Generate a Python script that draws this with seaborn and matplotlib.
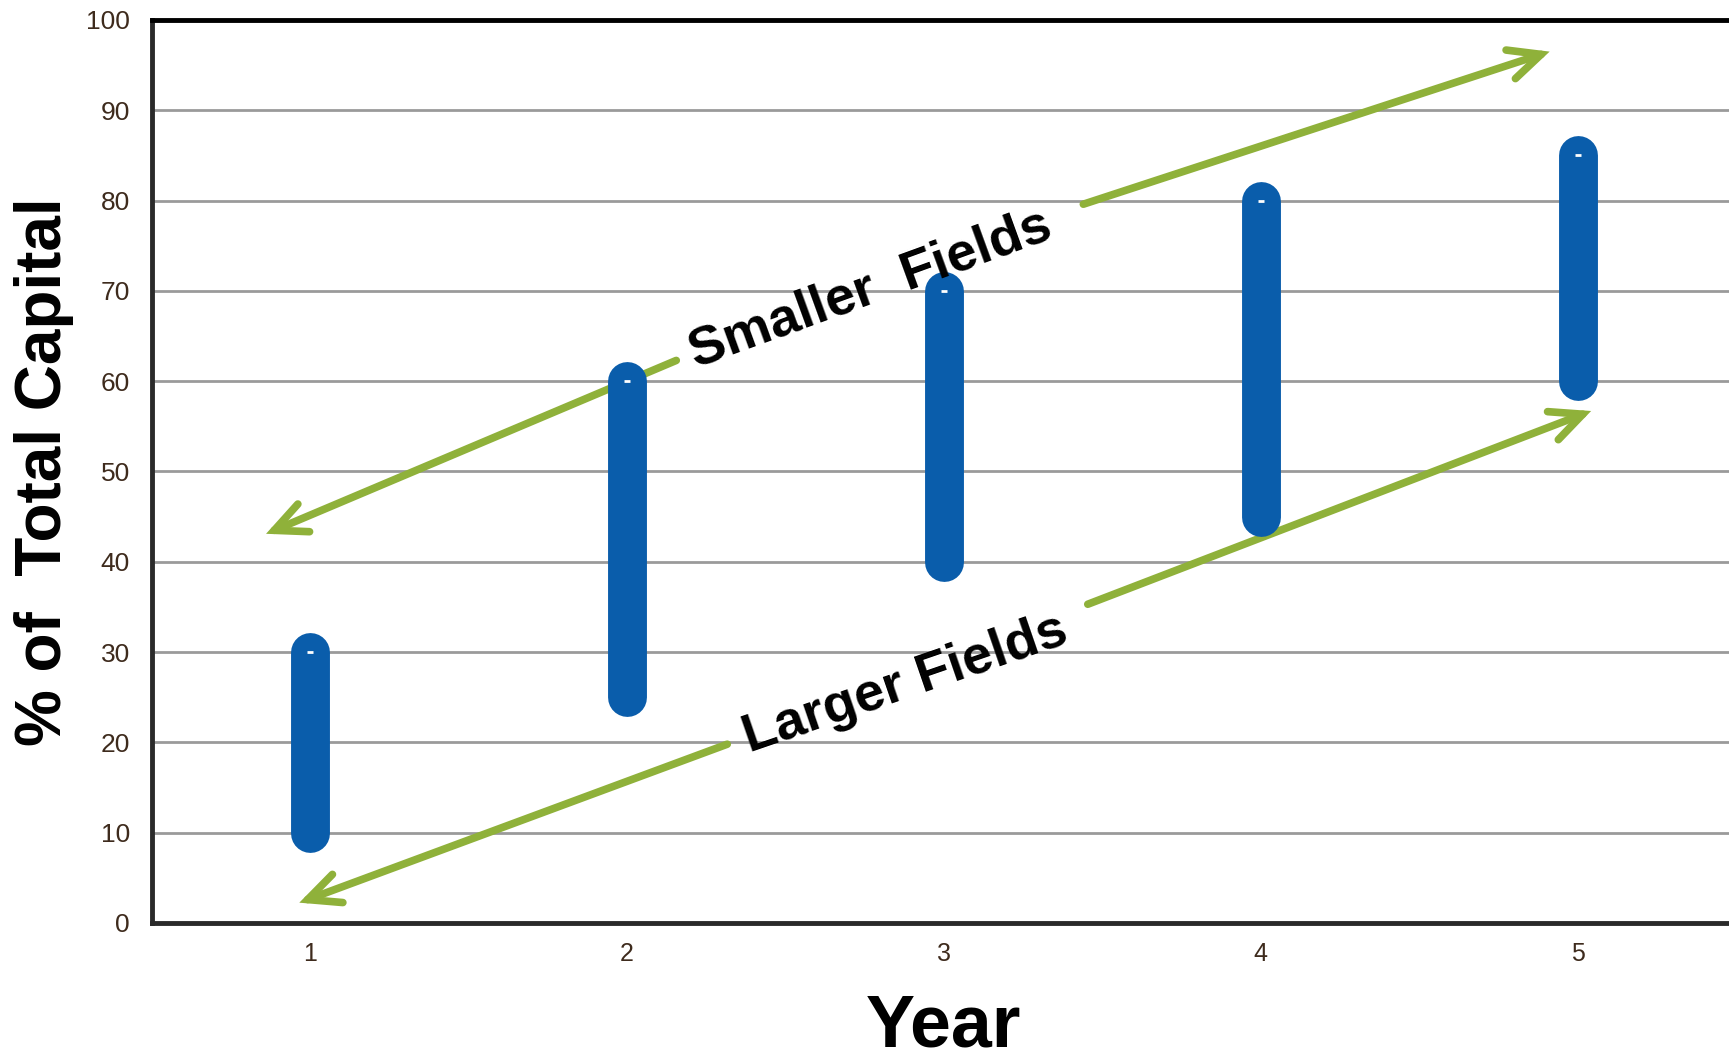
import matplotlib
matplotlib.use("Agg")
import matplotlib.pyplot as plt
import pandas as pd
import seaborn as sns

# Share of total capital per year: low and high end of each range
years = [1, 2, 3, 4, 5]
low_pct = [10, 25, 40, 45, 60]
high_pct = [30, 60, 70, 80, 85]

yticks = [0, 10, 20, 30, 40, 50, 60, 70, 80, 90, 100]

# Trend arrows (start -> tip) in data units
smaller_arrows = [((3.44, 79.6), (4.912, 96.5)), ((2.155, 62.3), (0.86, 43.1))]
larger_arrows = [((3.454, 35.3), (5.043, 56.7)), ((2.316, 19.8), (0.965, 2.25))]

BLUE = "#0A5DAB"
GREEN = "#8FB13A"
TICK_COLOR = "#3E2B1D"

sns.set_style("white")
plt.rcParams["font.family"] = ["Liberation Sans", "DejaVu Sans"]
plt.rcParams["text.color"] = "black"

rows = []
for y, lo, hi in zip(years, low_pct, high_pct):
    rows.append({"year": y, "pct": lo, "end": "low"})
    rows.append({"year": y, "pct": hi, "end": "high"})
df = pd.DataFrame(rows)

fig = plt.figure(figsize=(17.29, 10.58), dpi=100)
ax = fig.add_axes([0.0879, 0.1276, 0.9161, 0.8535])

# vertical range bars with rounded ends
sns.lineplot(data=df, x="year", y="pct", units="year", estimator=None,
             color=BLUE, linewidth=28, solid_capstyle="round", sort=False,
             legend=False, ax=ax, zorder=3)
# small white mark at the top of each range
sns.scatterplot(data=df[df["end"] == "high"], x="year", y="pct", marker="_",
                color="white", s=25, linewidth=2.0, legend=False, ax=ax, zorder=4)

ax.set_xlim(0.5, 5.5)
ax.set_ylim(0, 100)
ax.set_xticks(years)
ax.set_yticks(yticks)
ax.tick_params(axis="y", length=0, pad=16, labelsize=19, labelcolor=TICK_COLOR)
ax.tick_params(axis="x", length=0, pad=14, labelsize=18, labelcolor=TICK_COLOR)

ax.yaxis.grid(True, color="#9a9a9a", linewidth=2)
ax.xaxis.grid(False)
ax.set_axisbelow(True)

ax.spines["top"].set_color("black")
ax.spines["top"].set_linewidth(3.5)
for side in ("left", "bottom"):
    ax.spines[side].set_color("#2a2a2a")
    ax.spines[side].set_linewidth(3.5)
ax.spines["right"].set_visible(False)

ax.set_xlabel("Year", fontsize=53, fontweight="bold", color="black",
              va="baseline", ha="center")
ax.xaxis.set_label_coords(0.5, -0.1370)
ax.set_ylabel("% of  Total Capital", fontsize=46, fontweight="bold", color="black",
              ha="center", va="center")
ax.yaxis.set_label_coords(-0.0680, 0.5)

arrowstyle = "->,head_length=1.0,head_width=0.47"
for start, tip in smaller_arrows + larger_arrows:
    ax.annotate("", xy=tip, xytext=start,
                arrowprops=dict(arrowstyle=arrowstyle, color=GREEN, lw=5.5,
                                mutation_scale=23, shrinkA=0, shrinkB=0,
                                capstyle="round", joinstyle="miter"),
                zorder=2)

ax.text(2.768, 70.2, "Smaller  Fields", fontsize=39, fontweight="bold",
        color="black", rotation=20, rotation_mode="anchor",
        ha="center", va="center", zorder=5)
ax.text(2.879, 26.5, "Larger Fields", fontsize=39, fontweight="bold",
        color="black", rotation=19, rotation_mode="anchor",
        ha="center", va="center", zorder=5)

fig.savefig("out.png", dpi=100)
